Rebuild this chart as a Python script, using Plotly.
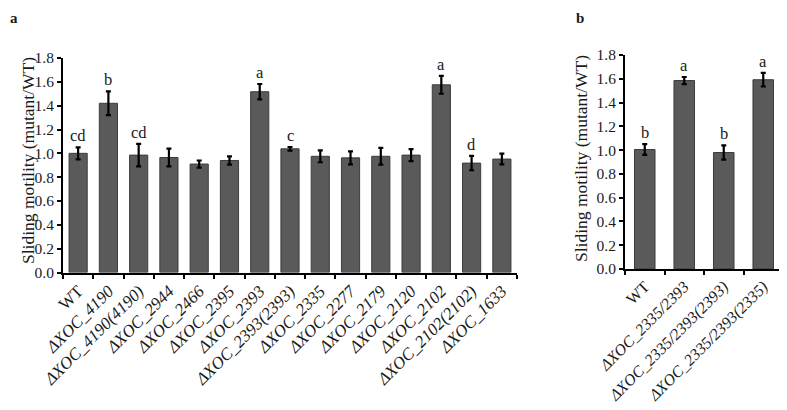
import plotly.graph_objects as go

# Panel a data
cats_a = ["WT", "ΔXOC_4190", "ΔXOC_4190(4190)", "ΔXOC_2944", "ΔXOC_2466", "ΔXOC_2395",
          "ΔXOC_2393", "ΔXOC_2393(2393)", "ΔXOC_2335", "ΔXOC_2277", "ΔXOC_2179",
          "ΔXOC_2120", "ΔXOC_2102", "ΔXOC_2102(2102)", "ΔXOC_1633"]
vals_a = [1.00, 1.42, 0.985, 0.965, 0.91, 0.94, 1.517, 1.038, 0.975, 0.962, 0.975, 0.985, 1.575, 0.918, 0.952]
errs_a = [0.05, 0.10, 0.095, 0.075, 0.03, 0.035, 0.065, 0.015, 0.05, 0.055, 0.07, 0.05, 0.075, 0.06, 0.045]
letters_a = ["cd", "b", "cd", "", "", "", "a", "c", "", "", "", "", "a", "d", ""]

# Panel b data
cats_b = ["WT", "ΔXOC_2335/2393", "ΔXOC_2335/2393(2393)", "ΔXOC_2335/2393(2335)"]
vals_b = [1.005, 1.585, 0.98, 1.592]
errs_b = [0.045, 0.03, 0.06, 0.057]
letters_b = ["b", "a", "b", "a"]

yticks = [0.0, 0.2, 0.4, 0.6, 0.8, 1.0, 1.2, 1.4, 1.6, 1.8]

OFF = 8  # page body margin
W, H = 787 - OFF, 410 - OFF
FONT = "Liberation Serif, Times New Roman, serif"
TXT = "#1a1a1a"
BAR = "#5a5a5a"

def px_x(p):
    return (p - OFF) / W

def px_y(p):
    return 1 - (p - OFF) / H

def tick_label(c):
    return c if c == "WT" else "<i>" + c + "</i>"

fig = go.Figure()

fig.add_trace(go.Bar(
    x=[tick_label(c) for c in cats_a], y=vals_a,
    marker=dict(color=BAR, line=dict(color="#3c3c3c", width=1)),
    width=0.6,
    error_y=dict(type="data", array=errs_a, color="#000000", thickness=2.2, width=2.5),
    xaxis="x", yaxis="y", showlegend=False,
))
fig.add_trace(go.Bar(
    x=[tick_label(c) for c in cats_b], y=vals_b,
    marker=dict(color=BAR, line=dict(color="#3c3c3c", width=1)),
    width=0.52,
    error_y=dict(type="data", array=errs_b, color="#000000", thickness=2.2, width=2.5),
    xaxis="x2", yaxis="y2", showlegend=False,
))

axis_common = dict(
    showline=True, linecolor="#000000", linewidth=2,
    ticks="outside", ticklen=4, tickwidth=2, tickcolor="#000000",
    showgrid=False, zeroline=False, automargin=False,
    tickfont=dict(family=FONT, size=15.5, color=TXT),
)
xfont_a = dict(family=FONT, size=17, color=TXT)
xfont_b = dict(family=FONT, size=16, color=TXT)

fig.update_layout(
    width=W, height=H,
    margin=dict(l=0, r=0, t=0, b=0),
    paper_bgcolor="white", plot_bgcolor="white",
    xaxis=dict(domain=[px_x(63), px_x(517)], anchor="y", tickangle=-45,
               tickson="boundaries", **{**axis_common, "tickfont": xfont_a}),
    yaxis=dict(domain=[px_y(272.5), px_y(58)], anchor="x", range=[0, 1.8],
               tickvals=yticks, ticktext=[f"{v:.1f}" for v in yticks], **axis_common),
    xaxis2=dict(domain=[px_x(625), px_x(783)], anchor="y2", tickangle=-45,
                tickson="boundaries", **{**axis_common, "tickfont": xfont_b}),
    yaxis2=dict(domain=[px_y(269), px_y(55)], anchor="x2", range=[0, 1.8],
                tickvals=yticks, ticktext=[f"{v:.1f}" for v in yticks], **axis_common),
)

ann = []
for c, v, e, l in zip(cats_a, vals_a, errs_a, letters_a):
    if l:
        ann.append(dict(x=tick_label(c), y=v + e, xref="x", yref="y", text=l, showarrow=False,
                        yanchor="bottom", yshift=0, font=dict(family=FONT, size=16.5, color=TXT)))
for c, v, e, l in zip(cats_b, vals_b, errs_b, letters_b):
    ann.append(dict(x=tick_label(c), y=v + e, xref="x2", yref="y2", text=l, showarrow=False,
                    yanchor="bottom", yshift=0, font=dict(family=FONT, size=16.5, color=TXT)))

ann.append(dict(x=px_x(28), y=px_y(161), xref="paper", yref="paper", text="Sliding motility (mutant/WT)",
                textangle=-90, xanchor="center", yanchor="middle", showarrow=False,
                font=dict(family=FONT, size=17.5, color=TXT)))
ann.append(dict(x=px_x(581), y=px_y(159), xref="paper", yref="paper", text="Sliding motility (mutant/WT)",
                textangle=-90, xanchor="center", yanchor="middle", showarrow=False,
                font=dict(family=FONT, size=17.5, color=TXT)))
ann.append(dict(x=0, y=1, xref="paper", yref="paper", text="<b>a</b>", xanchor="left",
                yanchor="top", showarrow=False, font=dict(family=FONT, size=15, color=TXT)))
ann.append(dict(x=px_x(574), y=1, xref="paper", yref="paper", text="<b>b</b>", xanchor="left",
                yanchor="top", showarrow=False, font=dict(family=FONT, size=15, color=TXT)))
fig.update_layout(annotations=ann)

fig.write_html("out.html")
